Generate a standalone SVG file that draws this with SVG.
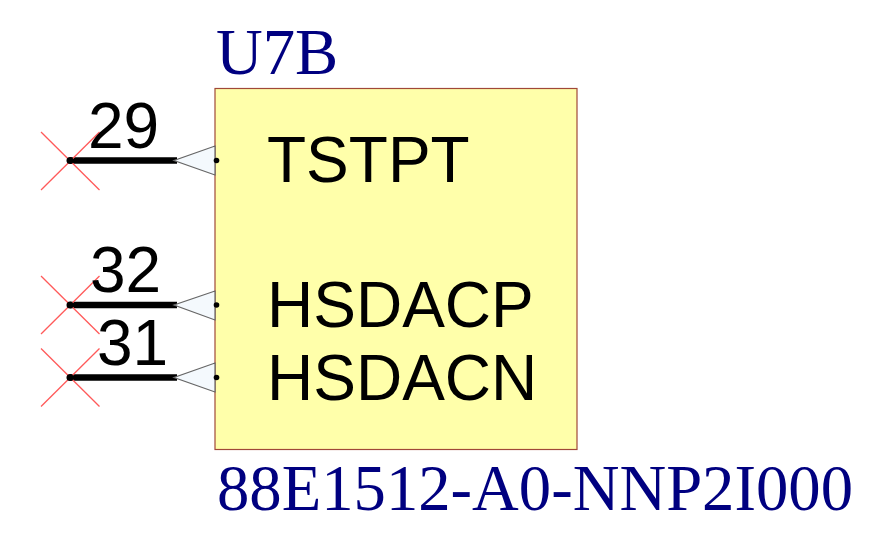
<svg xmlns="http://www.w3.org/2000/svg" width="888" height="554" viewBox="0 0 888 554">
<style>
.ref{font-family:"Liberation Serif",serif;font-size:64.700px;fill:#000080}
.pin{font-family:"Liberation Sans",sans-serif;font-size:64px;fill:#000}
.num{font-family:"Liberation Sans",sans-serif;font-size:64px;fill:#000}
.x{stroke:#ff5a5a;stroke-width:1.300;fill:none}
.w{stroke:#000;stroke-width:6.500;fill:none}
.t{fill:#f4f9fd;stroke:#666;stroke-width:1.200}
</style>
<rect width="888" height="554" fill="#fff"/>
<g id="body"><rect x="215" y="88.500" width="362" height="361" fill="#ffffaa" stroke="#a04838" stroke-width="1.200"/></g>
<g id="connectors">
<path class="w" d="M70 160.500H177M70 305H177M70 377.500H177"/>
</g>
<g id="pin29"><line class="x" x1="41" y1="132" x2="99.500" y2="190"/><line class="x" x1="41" y1="190" x2="99.500" y2="132"/><circle cx="70" cy="160.500" r="3.500"/><path class="t" d="M215 146V175L174 160.500Z"/><circle cx="216.500" cy="160.500" r="2.800"/><text class="num" x="88" y="147.500">29</text><text class="pin" x="267" y="182">TSTPT</text></g>
<g id="pin32"><line class="x" x1="41" y1="276" x2="99.500" y2="334"/><line class="x" x1="41" y1="334" x2="99.500" y2="276"/><circle cx="70" cy="305" r="3.500"/><path class="t" d="M215 291V320L174 305Z"/><circle cx="216.500" cy="305" r="2.800"/><text class="num" x="90" y="292">32</text><text class="pin" x="267" y="327">HSDACP</text></g>
<g id="pin31"><line class="x" x1="41" y1="348.500" x2="99.500" y2="406.500"/><line class="x" x1="41" y1="406.500" x2="99.500" y2="348.500"/><circle cx="70" cy="377.500" r="3.500"/><path class="t" d="M215 363V392L174 377.500Z"/><circle cx="216.500" cy="377.500" r="2.800"/><text class="num" x="97" y="364.500">31</text><text class="pin" x="267" y="400">HSDACN</text></g>
<g id="labels"><text class="ref" x="216" y="74">U7B</text><text class="ref" x="217" y="510">88E1512-A0-NNP2I000</text></g>
</svg>
